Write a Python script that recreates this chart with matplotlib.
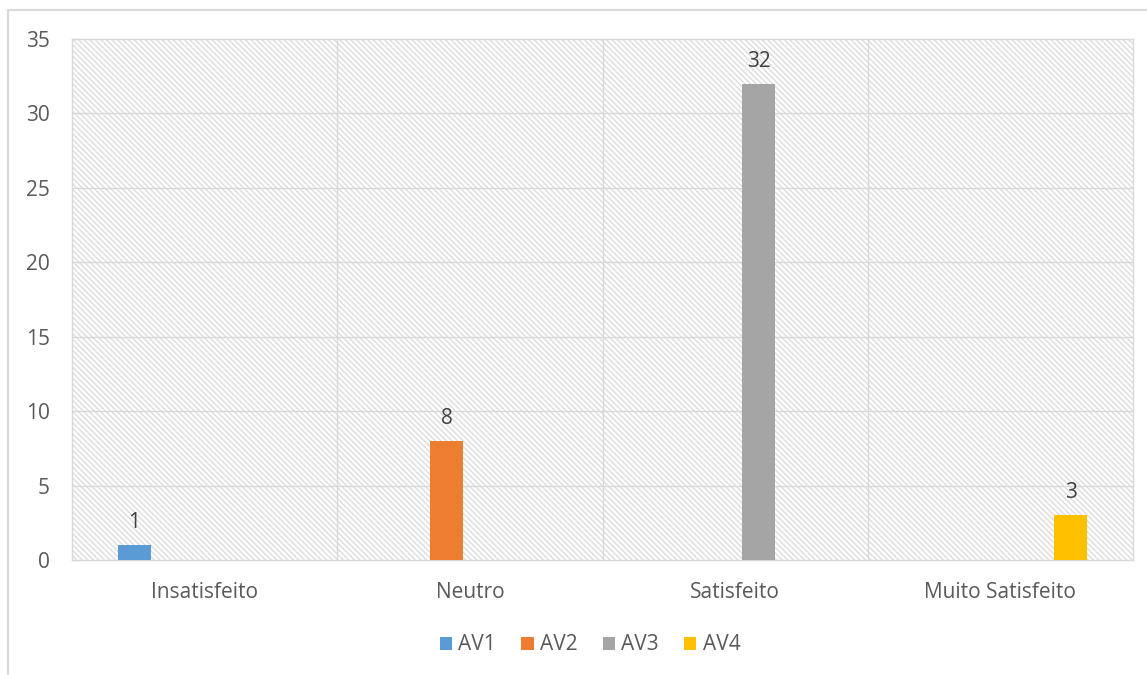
import matplotlib
matplotlib.use("Agg")
import matplotlib.pyplot as plt
from matplotlib.patches import Rectangle
import numpy as np

categories = ["Insatisfeito", "Neutro", "Satisfeito", "Muito Satisfeito"]
series_names = ["AV1", "AV2", "AV3", "AV4"]
series_values = [
    [1, 0, 0, 0],
    [0, 8, 0, 0],
    [0, 0, 32, 0],
    [0, 0, 0, 3],
]
colors = ["#5b9bd5", "#ed7d31", "#a5a5a5", "#ffc000"]

plt.rcParams["font.family"] = ["Open Sans", "DejaVu Sans"]
plt.rcParams["hatch.linewidth"] = 0.9
plt.rcParams["hatch.color"] = "#d9d9d9"

fig = plt.figure(figsize=(11.47, 6.75), dpi=100)
ax = fig.add_axes([72 / 1147, 1 - 560 / 675, (1133 - 72) / 1147, (560 - 39) / 675])

# outer chart border
fig.patches.append(Rectangle((8 / 1147, -0.05), 1.1, 1 - 10 / 675 + 0.05, transform=fig.transFigure,
                             fill=False, edgecolor="#d9d9d9", linewidth=1.5))

ax.patch.set_facecolor("white")
ax.patch.set_hatch("\\" * 6)
ax.patch.set_edgecolor("#d9d9d9")
ax.patch.set_linewidth(0)

fs = 15
x = np.arange(len(categories))
step = 0.1766
width = 0.1245
for j, (name, vals) in enumerate(zip(series_names, series_values)):
    pos = x + (j - 1.5) * step
    bars = ax.bar(pos, vals, width=width, color=colors[j], label=name, zorder=3)
    for b, v in zip(bars, vals):
        if v:
            ax.text(b.get_x() + b.get_width() / 2, v + 0.8, str(v), ha="center", va="bottom",
                    fontsize=fs, color="#404040", zorder=4)

ax.set_xlim(-0.5, len(categories) - 0.5)
ax.set_ylim(0, 35)
ax.set_yticks(range(0, 36, 5))
ax.set_xticks(x)
ax.set_xticklabels(categories)
ax.tick_params(length=0, labelsize=fs, labelcolor="#595959")
ax.tick_params(axis="x", pad=16)
ax.tick_params(axis="y", pad=16)

for yv in range(5, 35, 5):
    ax.axhline(yv, color="#d9d9d9", linewidth=1, zorder=1)
for xv in [0.5, 1.5, 2.5]:
    ax.axvline(xv, color="#d9d9d9", linewidth=1, zorder=1)
for s in ax.spines.values():
    s.set_color("#d9d9d9")
    s.set_linewidth(1)

leg = fig.legend(loc="center", bbox_to_anchor=(590 / 1147, 1 - 645 / 675), ncol=4, frameon=False,
                 fontsize=fs, handlelength=0.6, handleheight=0.6, handletextpad=0.3, columnspacing=1.2)
for t in leg.get_texts():
    t.set_color("#595959")

fig.savefig("out.png", dpi=100)
